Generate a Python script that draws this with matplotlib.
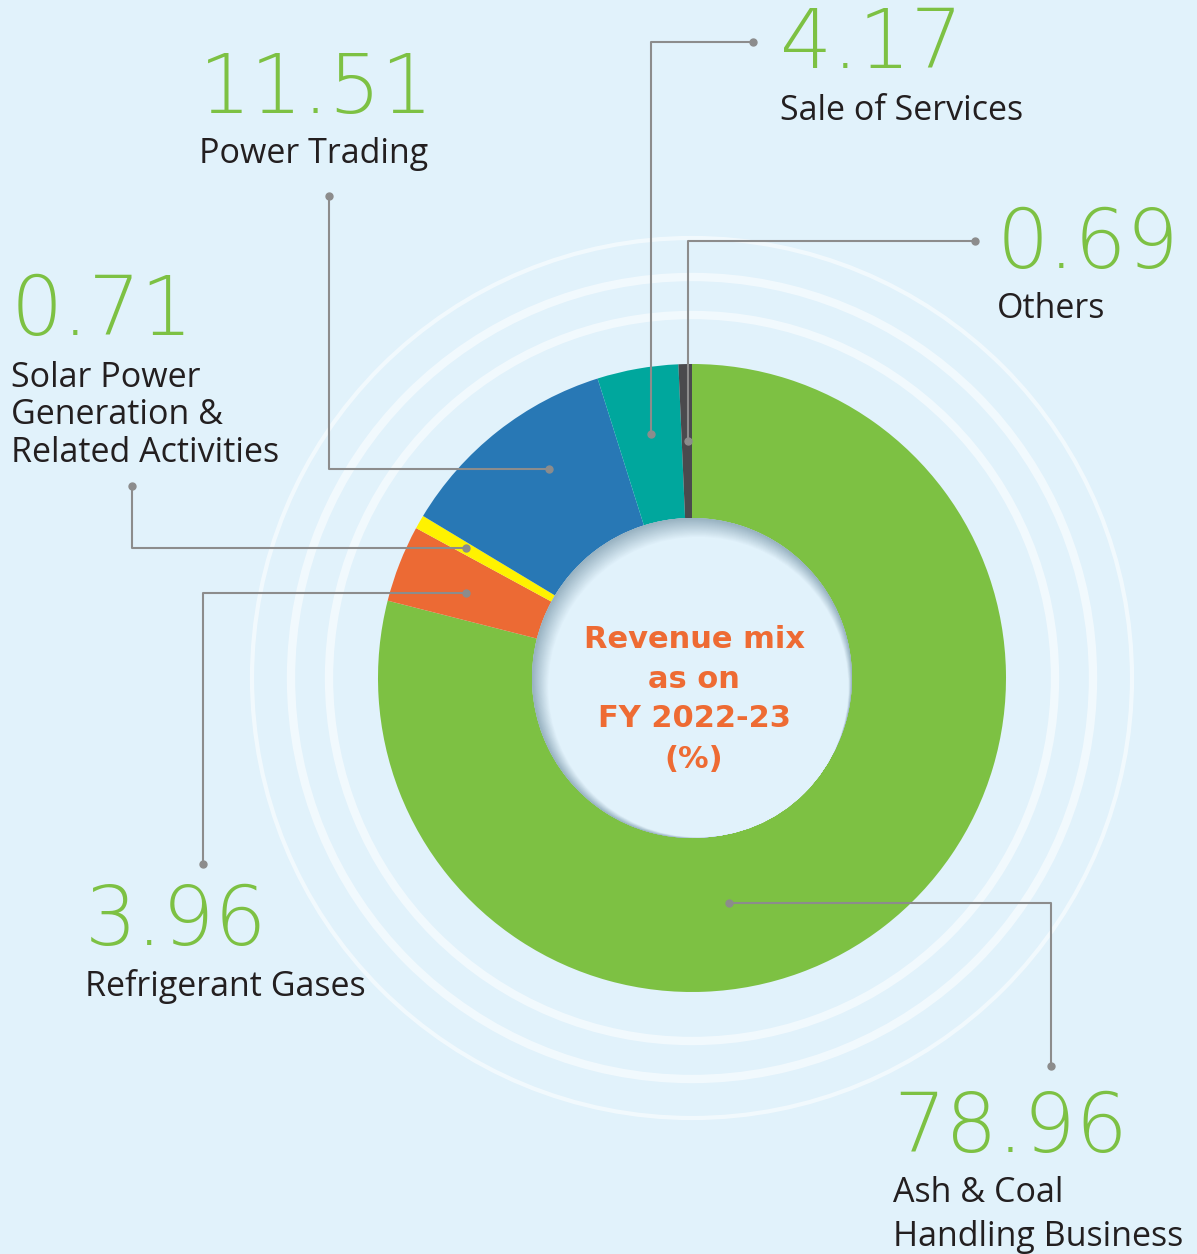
import matplotlib.pyplot as plt
import numpy as np
from matplotlib.patches import Circle

# Revenue mix FY 2022-23 (%), clockwise from 12 o'clock
segments = ['Ash & Coal\nHandling Business', 'Refrigerant Gases',
            'Solar Power\nGeneration &\nRelated Activities', 'Power Trading',
            'Sale of Services', 'Others']
values = [78.96, 3.96, 0.71, 11.51, 4.17, 0.69]
colors = ['#7DC143', '#EC6A34', '#FFF200', '#2878B5', '#00A79D', '#4A4A4D']
center_title = ['Revenue mix', 'as on', 'FY 2022-23', '(%)']

W, H = 1197, 1254
BG = '#E1F2FB'
GREEN = '#7DC143'
LINE = '#8C8C8C'
FONT = ['Open Sans', 'DejaVu Sans']
NUM_FONT = ['DejaVu Sans']

fig = plt.figure(figsize=(W / 100, H / 100), dpi=100, facecolor=BG)
ax = fig.add_axes([0, 0, 1, 1])


def Y(py):
    # pixel row (top-down) -> data y
    return H - py


cx, cy = 692, Y(678)

# faint background rings
for r, lw in [(363, 6), (401, 6), (440, 3)]:
    ax.add_patch(Circle((cx, cy), r, fill=False, ec='white', lw=lw, alpha=0.55, zorder=1))

# donut
ax.pie(values, colors=colors, startangle=90, counterclock=False,
       center=(cx, cy), radius=314, frame=True,
       wedgeprops=dict(width=314 - 160, linewidth=0))
ax.set_xlim(0, W)
ax.set_ylim(0, H)
ax.set_aspect('equal')
ax.axis('off')

# inner hole with soft shadow on the upper-left edge
shadow = np.array([0.60, 0.70, 0.76])
bg = np.array([0xE1, 0xF2, 0xFB]) / 255
ax.add_patch(Circle((cx, cy), 160, color=shadow, lw=0, zorder=5))
n = 18
for i in range(n + 1):
    t = i / n
    c = shadow * (1 - t) + bg * t
    ax.add_patch(Circle((cx + i * 0.35, cy - i * 0.5), 160 - i * 0.55, color=c, lw=0,
                        zorder=5 + i * 0.01))

for line, by in zip(center_title, [648, 688, 727, 768]):
    ax.text(cx + 2, Y(by), line, ha='center', va='baseline', color='#EE6B33',
            fontsize=22, fontweight='bold', family=['DejaVu Sans'], zorder=10)


def leader(pts):
    xs = [p[0] for p in pts]
    ys = [Y(p[1]) for p in pts]
    ax.plot(xs, ys, color=LINE, lw=1.5, zorder=8, solid_capstyle='butt')
    ax.plot([xs[0], xs[-1]], [ys[0], ys[-1]], 'o', color=LINE, ms=5, zorder=9)


leader([(651, 434), (651, 42), (753, 42)])
leader([(688, 441), (688, 241), (975, 241)])
leader([(549, 469), (329, 469), (329, 196)])
leader([(466, 548), (132, 548), (132, 486)])
leader([(466, 593), (203, 593), (203, 864)])
leader([(729, 903), (1051, 903), (1051, 1066)])

# left x, number baseline, first label baseline, label line step (pixels)
labels = {
    'Sale of Services': (780, 68, 120, 0),
    'Power Trading': (199, 113, 163, 0),
    'Others': (997, 268, 318, 0),
    'Solar Power\nGeneration &\nRelated Activities': (11, 335, 387, 37.5),
    'Refrigerant Gases': (85, 945, 996, 0),
    'Ash & Coal\nHandling Business': (893, 1152, 1202, 44),
}

for name, val in zip(segments, values):
    x, nb, lb, step = labels[name]
    ax.text(x, Y(nb), f'{val:.2f}', ha='left', va='baseline', color=GREEN,
            fontsize=59, fontweight='ultralight', family=NUM_FONT, zorder=10)
    for k, line in enumerate(name.split('\n')):
        ax.text(x, Y(lb + k * step), line, ha='left', va='baseline', color='#231F20',
                fontsize=24.5, fontweight='normal', family=FONT, zorder=10)

plt.savefig('out.png', dpi=100, facecolor=BG)
plt.close()
